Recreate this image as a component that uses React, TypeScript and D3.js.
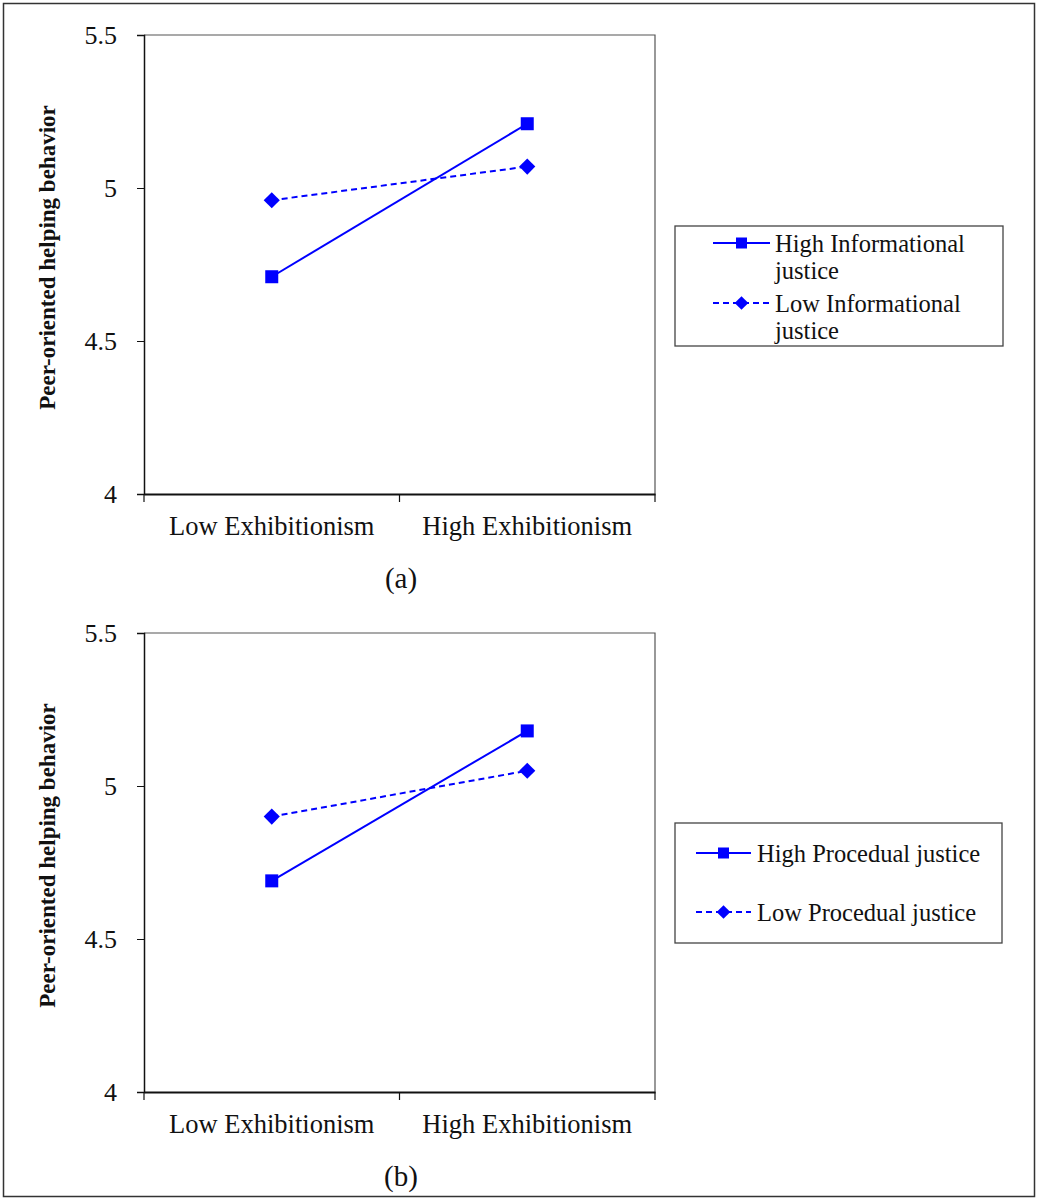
import React, { useEffect, useRef } from "react";
import * as d3 from "d3";

const categories = ["Low Exhibitionism", "High Exhibitionism"];
const yTicks = [4, 4.5, 5, 5.5];
const yTickLabels = ["4", "4.5", "5", "5.5"];

const highInfo = [4.71, 5.21];
const lowInfo = [4.96, 5.07];
const highProc = [4.69, 5.18];
const lowProc = [4.9, 5.05];

const yTitle = "Peer-oriented helping behavior";
const FONT = "'Liberation Serif', 'Times New Roman', serif";
const BLUE = "#0000ff";

type Series = { name: string[]; values: number[]; dashed: boolean; marker: "square" | "diamond" };

function drawPanel(
  svg: d3.Selection<SVGSVGElement, unknown, null, undefined>,
  top: number,
  label: string,
  series: Series[],
  legend: { x: number; y: number; w: number; h: number; rows: number[]; lineX: [number, number]; textX: number }
) {
  const left = 144;
  const right = 655;
  const height = 459;
  const g = svg.append("g");

  const x = d3.scaleBand().domain(categories).range([left, right]);
  const y = d3.scaleLinear().domain([4, 5.5]).range([top + height, top]);

  // plot border (top + right)
  g.append("path")
    .attr("d", `M${left},${top}H${right}V${top + height}`)
    .attr("fill", "none")
    .attr("stroke", "#555")
    .attr("stroke-width", 1.2);

  const yAxis = g
    .append("g")
    .attr("transform", `translate(${left},0)`)
    .call(
      d3
        .axisLeft(y)
        .tickValues(yTicks)
        .tickSize(7)
        .tickPadding(20)
        .tickFormat((d, i) => yTickLabels[i])
    );
  yAxis.select(".domain").attr("stroke", "#111").attr("stroke-width", 1.5);
  yAxis.selectAll(".tick line").attr("stroke", "#111");
  yAxis.selectAll("text").attr("font-family", FONT).attr("font-size", 26).attr("fill", "#111");

  const xAxis = g
    .append("g")
    .attr("transform", `translate(0,${top + height})`)
    .call(d3.axisBottom(x).tickSize(0).tickPadding(22));
  xAxis.select(".domain").attr("stroke", "#111").attr("stroke-width", 2);
  xAxis.selectAll("text").attr("font-family", FONT).attr("font-size", 26.5).attr("fill", "#111");
  // category boundary ticks
  g.selectAll(".xb")
    .data([left, left + x.step(), right])
    .join("line")
    .attr("x1", (d) => d)
    .attr("x2", (d) => d)
    .attr("y1", top + height)
    .attr("y2", top + height + 8)
    .attr("stroke", "#111")
    .attr("stroke-width", 1.2);

  g.append("text")
    .attr("transform", `translate(55,${top + height / 2 - 7}) rotate(-90)`)
    .attr("text-anchor", "middle")
    .attr("font-family", FONT)
    .attr("font-weight", "bold")
    .attr("font-size", 23)
    .attr("fill", "#111")
    .text(yTitle);

  g.append("text")
    .attr("x", 401)
    .attr("y", top + height + 94)
    .attr("text-anchor", "middle")
    .attr("font-family", FONT)
    .attr("font-size", 29)
    .attr("fill", "#111")
    .text(label);

  const cx = (c: string) => (x(c) as number) + x.bandwidth() / 2;
  const line = d3
    .line<number>()
    .x((_, i) => cx(categories[i]))
    .y((d) => y(d));

  const marker = (sel: d3.Selection<SVGGElement, unknown, null, undefined>, type: string, px: number, py: number, s: number) => {
    if (type === "square") {
      sel.append("rect").attr("x", px - s / 2).attr("y", py - s / 2).attr("width", s).attr("height", s).attr("fill", BLUE);
    } else {
      const r = s * 0.62;
      sel.append("path").attr("d", `M${px},${py - r}L${px + r},${py}L${px},${py + r}L${px - r},${py}Z`).attr("fill", BLUE);
    }
  };

  series.forEach((s) => {
    const sg = g.append("g");
    sg.append("path")
      .datum(s.values)
      .attr("d", line)
      .attr("fill", "none")
      .attr("stroke", BLUE)
      .attr("stroke-width", 2)
      .attr("stroke-dasharray", s.dashed ? "6,4" : null);
    s.values.forEach((v, i) => marker(sg, s.marker, cx(categories[i]), y(v), 13));
  });

  // legend
  const lg = g.append("g");
  lg.append("rect")
    .attr("x", legend.x)
    .attr("y", legend.y)
    .attr("width", legend.w)
    .attr("height", legend.h)
    .attr("fill", "#fff")
    .attr("stroke", "#444")
    .attr("stroke-width", 1.3);
  series.forEach((s, i) => {
    const ry = legend.rows[i];
    const eg = lg.append("g");
    eg.append("line")
      .attr("x1", legend.lineX[0])
      .attr("x2", legend.lineX[1])
      .attr("y1", ry)
      .attr("y2", ry)
      .attr("stroke", BLUE)
      .attr("stroke-width", 2)
      .attr("stroke-dasharray", s.dashed ? "6,4" : null);
    marker(eg, s.marker, (legend.lineX[0] + legend.lineX[1]) / 2, ry, 11);
    s.name.forEach((t, j) => {
      eg.append("text")
        .attr("x", legend.textX)
        .attr("y", ry + 9 + j * 27)
        .attr("font-family", FONT)
        .attr("font-size", 24.5)
        .attr("fill", "#111")
        .text(t);
    });
  });
}

export default function App() {
  const ref = useRef<SVGSVGElement>(null);

  useEffect(() => {
    const svg = d3.select(ref.current as SVGSVGElement);
    svg.selectAll("*").remove();

    svg.append("rect")
      .attr("x", 3.5)
      .attr("y", 3.5)
      .attr("width", 1031)
      .attr("height", 1193)
      .attr("fill", "#fff")
      .attr("stroke", "#333")
      .attr("stroke-width", 1.5);

    drawPanel(
      svg,
      35,
      "(a)",
      [
        { name: ["High Informational", "justice"], values: highInfo, dashed: false, marker: "square" },
        { name: ["Low Informational", "justice"], values: lowInfo, dashed: true, marker: "diamond" },
      ],
      { x: 675, y: 226, w: 328, h: 120, rows: [243, 303], lineX: [713, 770], textX: 775 }
    );

    drawPanel(
      svg,
      633,
      "(b)",
      [
        { name: ["High Procedual justice"], values: highProc, dashed: false, marker: "square" },
        { name: ["Low Procedual justice"], values: lowProc, dashed: true, marker: "diamond" },
      ],
      { x: 675, y: 823, w: 327, h: 120, rows: [853, 912], lineX: [696, 751], textX: 757 }
    );
  }, []);

  return (
    <svg
      ref={ref}
      width={1038}
      height={1200}
      style={{ position: "absolute", left: 0, top: 0, background: "#fff" }}
    />
  );
}
